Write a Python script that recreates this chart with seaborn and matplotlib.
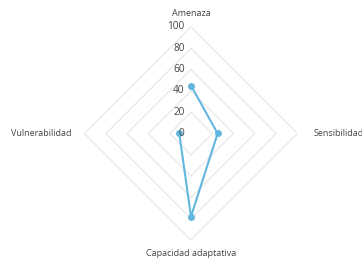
"""Radar de vulnerabilidad: amenaza, sensibilidad, capacidad adaptativa."""

import matplotlib
matplotlib.use("Agg")
import matplotlib.pyplot as plt
import numpy as np
import pandas as pd
import seaborn as sns

categorias = ["Amenaza", "Sensibilidad", "Capacidad adaptativa", "Vulnerabilidad"]
valores = [45, 25, 78, 11]
ticks = [0, 20, 40, 60, 80, 100]

color_linea = "#62b6df"
color_grid = "#e9e9e9"
color_texto = "#444444"

sns.set_style("white")
plt.rcParams["font.family"] = ["Open Sans", "DejaVu Sans"]

angulos = np.linspace(0, 2 * np.pi, len(categorias), endpoint=False)

fig = plt.figure(figsize=(3.62, 2.62), dpi=100)
ax = fig.add_axes([0.2334, 0.084, 0.5884, 0.813], projection="polar")
ax.set_theta_offset(np.pi / 2)
ax.set_theta_direction(-1)
ax.set_ylim(0, 100)
ax.grid(False)
ax.spines["polar"].set_visible(False)
ax.set_xticks([])
ax.set_yticks([])
ax.set_facecolor("white")

# rejilla en forma de rombo
ang_cerrado = np.append(angulos, angulos[0])
for r in ticks[1:]:
    ax.plot(ang_cerrado, [r] * len(ang_cerrado), color=color_grid, lw=0.9, zorder=1)

# serie
df = pd.DataFrame({
    "angulo": np.append(angulos, angulos[0]),
    "valor": valores + valores[:1],
})
sns.lineplot(data=df, x="angulo", y="valor", sort=False, ax=ax,
             color=color_linea, lw=1.5, marker="o", markersize=5,
             markeredgewidth=0, zorder=3)
ax.set_xlabel("")
ax.set_ylabel("")
ax.set_ylim(0, 100)

# etiquetas del eje radial
for t in ticks:
    ax.annotate(str(t), xy=(0, t), xytext=(-4.5, 0), textcoords="offset points",
                ha="right", va="center", fontsize=7.2, color=color_texto)

# etiquetas de categorias
posiciones = [(108, "center", "bottom"), (115, "left", "center"),
              (108, "center", "top"), (112, "right", "center")]
for ang, nombre, (r, ha, va) in zip(angulos, categorias, posiciones):
    ax.text(ang, r, nombre, ha=ha, va=va, fontsize=6.5, color=color_texto)

fig.savefig("out.png", dpi=100)
